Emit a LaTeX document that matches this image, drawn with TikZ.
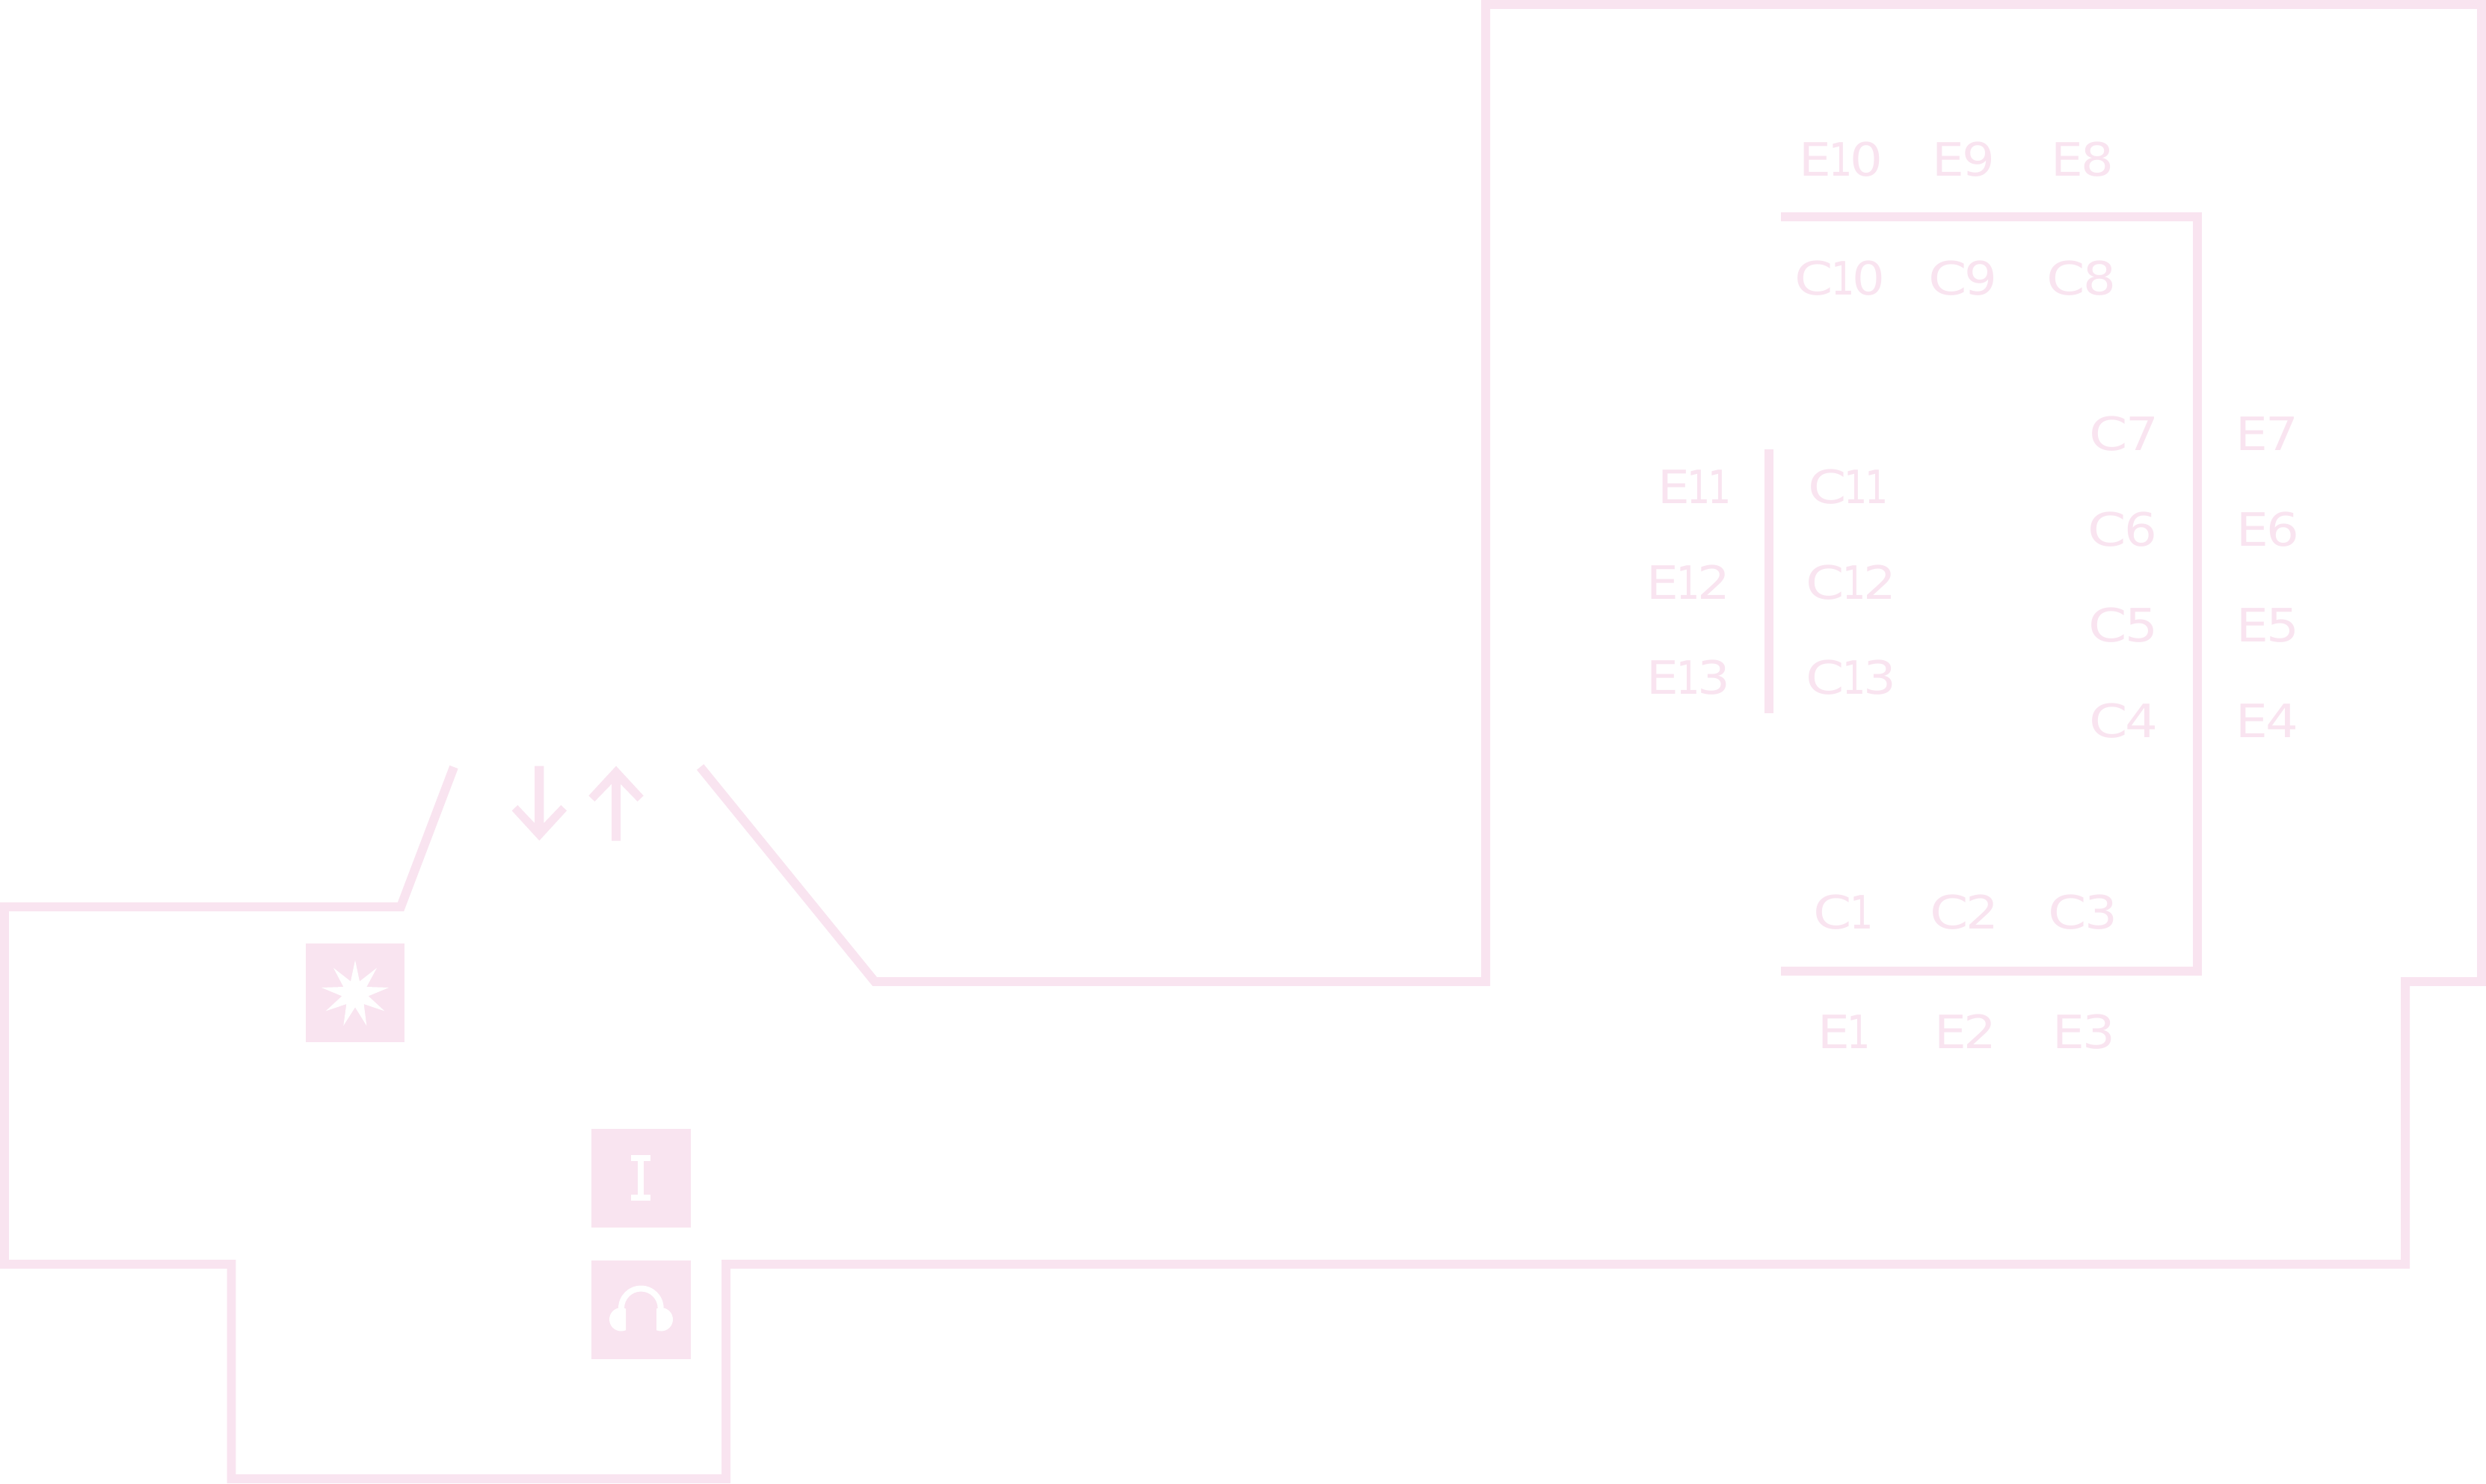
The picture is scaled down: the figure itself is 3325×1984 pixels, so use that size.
\documentclass[tikz,border=0pt]{standalone}
\usepackage{fontspec}
\setmainfont{DejaVu Sans}
\newfontfamily\fnC[FakeStretch=1.2]{DejaVu Sans}
\newfontfamily\fnE[FakeStretch=1.1]{DejaVu Sans}
\newfontfamily\fnO[FakeStretch=0.8]{DejaVu Sans}
\newfontfamily\fnD[FakeStretch=1.12]{DejaVu Sans}
\newcommand\tC{{\fnC C}\kern-1.7pt}
\newcommand\tE{{\fnE E}\kern-1.7pt}
\newcommand\tO{{\fnO 1}\kern-1.9pt}
\newcommand\tD[1]{{\fnD #1}}
\definecolor{plan}{HTML}{F9E4F0}
\newcommand\lab[4]{\node[lbl] (#1) at (#2,#3+22.5) {#4};}
\tikzset{
  wall/.style={draw=plan,line width=6.8pt,miter limit=10,line join=miter,line cap=butt},
  panel/.style={fill=plan},
  cutout/.style={fill=white},
  lbl/.style={text=plan,anchor=base,inner sep=0pt,outer sep=0pt,font=\fontsize{35}{38}\selectfont}
}
\begin{document}
\begin{tikzpicture}[x=0.02cm,y=-0.02cm]
\useasboundingbox (0,0) rectangle (3325,1984);
\fill[white] (0,0) rectangle (3325,1984);
% outline
\draw[wall] (607,1026) -- (536,1213) -- (6,1213) -- (6,1691) -- (309.5,1691) -- (309.5,1978) -- (971,1978) -- (971,1691) -- (3217,1691) -- (3217,1313) -- (3319,1313) -- (3319,6) -- (1987,6) -- (1987,1313) -- (1170,1313) -- (936.6,1026);
% inner walls
\draw[wall] (2382,290) -- (2938.5,290) -- (2938.5,1299) -- (2382,1299);
\draw[wall] (2365.5,601) -- (2365.5,954);
% arrows
\begin{scope}[shift={(640,1000)},xscale=1/3,yscale=1/3]
\fill[panel] (225,74) -- (262,74) -- (262,303) -- (331,231) -- (354,253) -- (244,373) -- (134,253) -- (157,231) -- (225,303) -- cycle;
\fill[panel] (534,374) -- (570,374) -- (570,146) -- (638,216) -- (662,193) -- (552,74) -- (442,193) -- (466,216) -- (534,146) -- cycle;
\end{scope}
% star panel
\fill[panel] (409,1262) rectangle (541,1394);
\begin{scope}[shift={(350,1220)},xscale=1/3,yscale=1/3]
\fill[cutout] (375,193) -- (393,278) -- (462,224) -- (421,300) -- (510,303) -- (428,337) -- (493,397) -- (410,369) -- (421,456) -- (375,382) -- (328,456) -- (340,369) -- (257,397) -- (322,337) -- (240,303) -- (328,300) -- (288,224) -- (357,278) -- cycle;
\end{scope}
% info and audio panels
\fill[panel] (791.3,1510) rectangle (923.7,1642.3);
\fill[panel] (791.3,1685.5) rectangle (923.7,1817.8);
\begin{scope}[shift={(740,1480.5)},xscale=1/3,yscale=1/3]
\fill[cutout] (313,193) rectangle (390,216);
\fill[cutout] (339,216) rectangle (364,353);
\fill[cutout] (313,353) rectangle (390,376);
% headphones
\fill[cutout] (261,808) arc[start angle=180,end angle=360,radius=91] -- (419,808) arc[start angle=360,end angle=180,radius=67] -- cycle;
\begin{scope}
\clip (200,790) rectangle (291,910);
\fill[cutout] (272,853) circle[radius=47];
\end{scope}
\begin{scope}
\clip (414,790) rectangle (500,910);
\fill[cutout] (433,853) circle[radius=47];
\end{scope}
\end{scope}
% labels
\lab{e10}{2462.5}{213}{\tE\tO\tD0}
\lab{e9}{2626.4}{213}{\tE\tD9}
\lab{e8}{2785.5}{213}{\tE\tD8}
\lab{c10}{2461}{372}{\tC\tO\tD0}
\lab{c9}{2625.4}{372}{\tC\tD9}
\lab{c8}{2784}{372}{\tC\tD8}
\lab{c7}{2841}{579.5}{\tC\tD7}
\lab{e7}{3032}{579.5}{\tE\tD7}
\lab{c6}{2839}{707.5}{\tC\tD6}
\lab{e6}{3033.7}{707.5}{\tE\tD6}
\lab{c5}{2840}{835.5}{\tC\tD5}
\lab{e5}{3033}{835.5}{\tE\tD5}
\lab{c4}{2840.5}{963.5}{\tC\tD4}
\lab{e4}{3032.7}{963.5}{\tE\tD4}
\lab{e11}{2265}{650.5}{\tE\tO\tO}
\lab{c11}{2470.6}{650.5}{\tC\tO\tO}
\lab{e12}{2258.6}{778.5}{\tE\tO\tD2}
\lab{c12}{2476}{778.5}{\tC\tO\tD2}
\lab{e13}{2258.6}{906}{\tE\tO\tD3}
\lab{c13}{2476}{906}{\tC\tO\tD3}
\lab{c1}{2463.8}{1220}{\tC\tO}
\lab{c2}{2627.6}{1220}{\tC\tD2}
\lab{c3}{2786}{1220}{\tC\tD3}
\lab{e1}{2465}{1379.5}{\tE\tO}
\lab{e2}{2628.8}{1379.5}{\tE\tD2}
\lab{e3}{2787.4}{1379.5}{\tE\tD3}
\end{tikzpicture}
\end{document}
